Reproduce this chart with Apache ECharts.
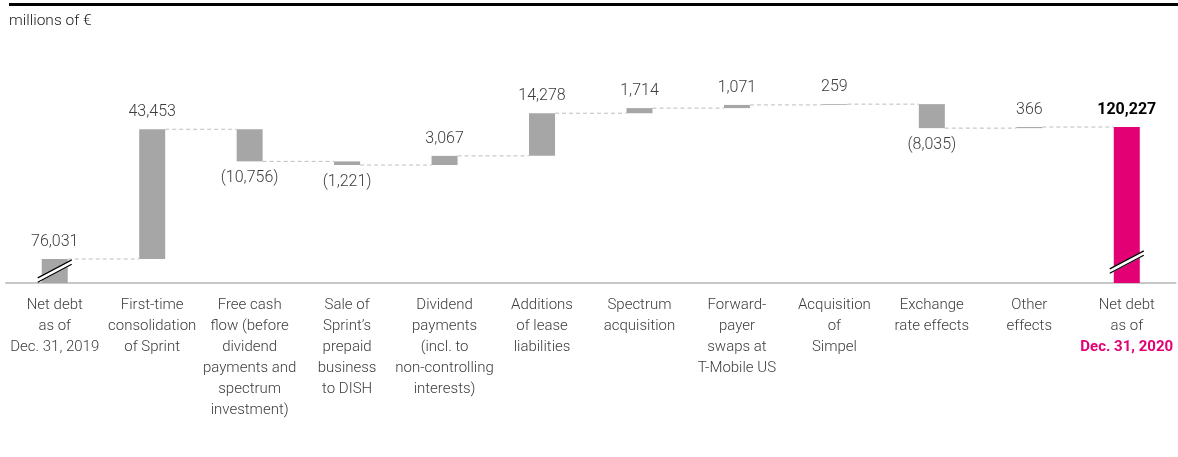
<!DOCTYPE html>
<html>
<head>
<meta charset="utf-8">
<script src="https://cdn.jsdelivr.net/npm/echarts@6/dist/echarts.min.js"></script>
<style>
html,body{margin:0;padding:0;background:#fff;}
#chart{width:1178px;height:457px;}
</style>
</head>
<body>
<div id="chart"></div>
<script>
// ---- data ----
const categories = [
  'Net debt\nas of\nDec. 31, 2019',
  'First-time\nconsolidation\nof Sprint',
  'Free cash\nflow (before\ndividend\npayments and\nspectrum\ninvestment)',
  'Sale of\nSprint’s\nprepaid\nbusiness\nto DISH',
  'Dividend\npayments\n(incl. to\nnon-controlling\ninterests)',
  'Additions\nof lease\nliabilities',
  'Spectrum\nacquisition',
  'Forward-\npayer\nswaps at\nT-Mobile US',
  'Acquisition\nof\nSimpel',
  'Exchange\nrate effects',
  'Other\neffects',
  'Net debt\nas of\nDec. 31, 2020'
];
// first and last entries are totals, the rest are changes
const values = [76031, 43453, -10756, -1221, 3067, 14278, 1714, 1071, 259, -8035, 366, 120227];
const totalIdx = [0, 11];
// y positions (in millions of €) where the axis-break marks are drawn on the total bars
const breakMarks = [[0, 72000], [11, 75000]];
const axisMin = 68000, axisMax = 140000;

// ---- derived waterfall arrays ----
const base = [], shown = [], levels = [];
let running = 0;
values.forEach((v, i) => {
  if (totalIdx.includes(i)) {
    base.push(0); shown.push(v); running = v;
  } else {
    const next = running + v;
    base.push(Math.min(running, next));
    shown.push(Math.abs(v));
    running = next;
  }
  levels.push(running);
});
const fmt = v => (v < 0 ? '(' + Math.abs(v).toLocaleString('en-US') + ')' : v.toLocaleString('en-US'));

const GRAY = '#a6a6a6', MAGENTA = '#e20074';
const FONT = 'Roboto, "Noto Sans", sans-serif';
const BARW = 26;
const TXT = '#3c3c3c';

const shownData = shown.map((s, i) => {
  const isLast = i === values.length - 1;
  return {
    value: s,
    itemStyle: { color: isLast ? MAGENTA : GRAY },
    label: {
      show: true,
      position: values[i] < 0 ? 'bottom' : 'top',
      distance: 9,
      formatter: fmt(values[i]),
      fontFamily: FONT,
      fontSize: 16,
      fontWeight: isLast ? 'bold' : 300,
      color: isLast ? '#000' : TXT
    }
  };
});

const chart = echarts.init(document.getElementById('chart'), null, { renderer: 'canvas' });
chart.setOption({
  animation: false,
  backgroundColor: '#fff',
  title: {
    text: 'millions of €', left: 4, top: 8,
    textStyle: { fontFamily: FONT, fontSize: 15.5, fontWeight: 300, color: '#1a1a1a' }
  },
  graphic: [{ type: 'rect', left: 9, top: 3, shape: { width: 1169, height: 3 }, style: { fill: '#000' } }],
  grid: { left: 6, right: 2.5, top: 68, bottom: 174 },
  xAxis: {
    type: 'category', data: categories,
    axisLine: { lineStyle: { color: '#c8c8c8', width: 2 } },
    axisTick: { show: false },
    axisLabel: {
      interval: 0, margin: 12, lineHeight: 21,
      fontFamily: FONT, fontSize: 15, fontWeight: 300, color: TXT,
      formatter: (val, idx) => {
        if (idx === categories.length - 1) {
          const parts = val.split('\n');
          return parts.slice(0, -1).map(p => '{n|' + p + '}').join('\n') + '\n{b|' + parts[parts.length - 1] + '}';
        }
        return val;
      },
      rich: {
        n: { fontFamily: FONT, fontSize: 15, fontWeight: 300, color: TXT, lineHeight: 21 },
        b: { fontFamily: FONT, fontSize: 15, fontWeight: 'bold', color: MAGENTA, lineHeight: 21 }
      }
    }
  },
  yAxis: { type: 'value', min: axisMin, max: axisMax, show: false, splitLine: { show: false } },
  series: [
    {
      type: 'custom', name: 'connectors', z: 1,
      data: levels.slice(0, -1).map((lv, i) => [i, lv]),
      renderItem: (params, api) => {
        const i = api.value(0), lv = api.value(1);
        const p1 = api.coord([i, lv]), p2 = api.coord([i + 1, lv]);
        return {
          type: 'line',
          shape: { x1: p1[0] + BARW / 2, y1: p1[1], x2: p2[0] - BARW / 2, y2: p2[1] },
          style: { stroke: '#bdbdbd', lineWidth: 1, lineDash: [4, 3] }
        };
      }
    },
    {
      type: 'bar', stack: 'wf', barWidth: BARW, silent: true,
      itemStyle: { color: 'transparent' }, data: base
    },
    {
      type: 'bar', stack: 'wf', barWidth: BARW, data: shownData, z: 2
    },
    {
      type: 'custom', name: 'breaks', z: 5,
      data: breakMarks,
      renderItem: (params, api) => {
        const c = api.coord([api.value(0), api.value(1)]);
        const dx = 17, dy = 9, off = 2.2;
        return {
          type: 'group',
          children: [
            { type: 'line', shape: { x1: c[0] - dx, y1: c[1] + dy, x2: c[0] + dx, y2: c[1] - dy }, style: { stroke: '#fff', lineWidth: 5 } },
            { type: 'line', shape: { x1: c[0] - dx, y1: c[1] + dy - off, x2: c[0] + dx, y2: c[1] - dy - off }, style: { stroke: '#000', lineWidth: 1.2 } },
            { type: 'line', shape: { x1: c[0] - dx, y1: c[1] + dy + off, x2: c[0] + dx, y2: c[1] - dy + off }, style: { stroke: '#000', lineWidth: 1.2 } }
          ]
        };
      }
    }
  ]
});
</script>
</body>
</html>
